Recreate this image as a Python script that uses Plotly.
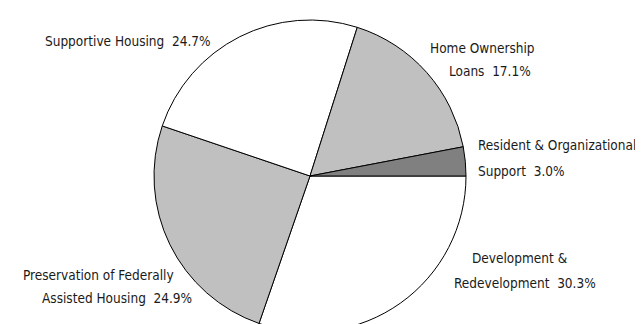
import plotly.graph_objects as go

# slices, clockwise from 3 o'clock
categories = ["Development & Redevelopment", "Preservation of Federally Assisted Housing",
              "Supportive Housing", "Home Ownership Loans",
              "Resident & Organizational Support"]
shares = [30.3, 24.9, 24.7, 17.1, 3.0]
label_first = ["Development &", "Preservation of Federally", "",
               "Home Ownership", "Resident & Organizational"]
label_second = ["Redevelopment", "Assisted Housing", "Supportive Housing",
                "Loans", "Support"]
slice_colors = ["#ffffff", "#c0c0c0", "#ffffff", "#c0c0c0", "#808080"]

W, H = 643, 324
FONT = "Liberation Sans Narrow, DejaVu Sans Condensed, sans-serif"

# label line anchors in pixels: (x1, y1, x2, y2, xanchor)
label_pos = [
    (512, 250, 517, 275, "center"),
    (90, 267, 109, 290, "center"),
    (None, None, 120, 33, "center"),
    (474, 40, 482, 63, "center"),
    (468, 137, 468, 163, "left"),
]

fig = go.Figure(go.Pie(
    labels=categories,
    values=shares,
    sort=False,
    direction="clockwise",
    rotation=90,
    marker=dict(colors=slice_colors, line=dict(color="black", width=1)),
    textinfo="none",
    hoverinfo="label+percent",
    showlegend=False,
    domain=dict(x=[146 / W, 458 / W], y=[0, 312 / H]),
))

annotations = []
for first, second, share, pos in zip(label_first, label_second, shares, label_pos):
    x1, y1, x2, y2, anchor = pos
    if first:
        annotations.append(dict(x=x1 / W, y=1 - y1 / H, text=first, xanchor=anchor))
    annotations.append(dict(x=x2 / W, y=1 - y2 / H, text=f"{second}  {share:.1f}%",
                            xanchor=anchor))
for a in annotations:
    a.update(xref="paper", yref="paper", yanchor="middle",
             showarrow=False, font=dict(family=FONT, size=13.5, color="#1a1a1a"))

fig.update_layout(
    width=W, height=H,
    margin=dict(l=0, r=0, t=0, b=0),
    paper_bgcolor="white",
    annotations=annotations,
)

fig.write_html("out.html")
